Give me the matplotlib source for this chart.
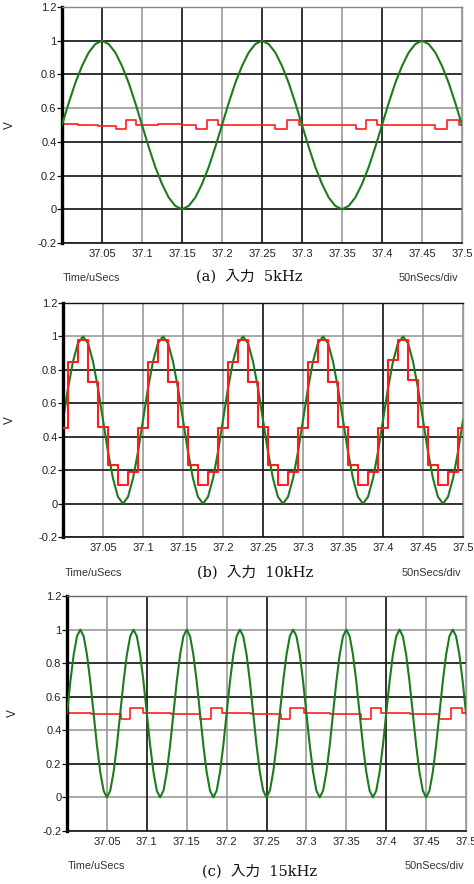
import numpy as np
import matplotlib
matplotlib.use("Agg")
import matplotlib.pyplot as plt

# ---- data ----
x_ticks = [37.05, 37.1, 37.15, 37.2, 37.25, 37.3, 37.35, 37.4, 37.45, 37.5]
x_labels = ["37.05", "37.1", "37.15", "37.2", "37.25", "37.3", "37.35", "37.4", "37.45", "37.5"]
y_ticks = [-0.2, 0, 0.2, 0.4, 0.6, 0.8, 1.0, 1.2]
y_labels = ["-0.2", "0", "0.2", "0.4", "0.6", "0.8", "1", "1.2"]
captions = ["(a)  入力  5kHz", "(b)  入力  10kHz", "(c)  入力  15kHz"]

# (a) input sine, sampled every 0.2/24 us from 37.0 to 37.5
green_a = [
    0.50, 0.63, 0.75, 0.85, 0.93, 0.98, 1.00, 0.98, 0.93, 0.85, 0.75, 0.63,
    0.50, 0.37, 0.25, 0.15, 0.07, 0.02, 0.00, 0.02, 0.07, 0.15, 0.25, 0.37,
    0.50, 0.63, 0.75, 0.85, 0.93, 0.98, 1.00, 0.98, 0.93, 0.85, 0.75, 0.63,
    0.50, 0.37, 0.25, 0.15, 0.07, 0.02, 0.00, 0.02, 0.07, 0.15, 0.25, 0.37,
    0.50, 0.63, 0.75, 0.85, 0.93, 0.98, 1.00, 0.98, 0.93, 0.85, 0.75, 0.63,
    0.50,
]
red_a_t = [37.000, 37.020, 37.045, 37.068, 37.080, 37.093, 37.120, 37.150,
           37.168, 37.181, 37.195, 37.225, 37.266, 37.281, 37.296, 37.330,
           37.368, 37.380, 37.394, 37.430, 37.466, 37.481, 37.496, 37.500]
red_a_v = [0.505, 0.500, 0.497, 0.476, 0.528, 0.500, 0.503, 0.498,
           0.474, 0.530, 0.500, 0.502, 0.475, 0.530, 0.500, 0.498,
           0.476, 0.528, 0.500, 0.502, 0.476, 0.530, 0.500, 0.500]

# (b) input sine, sampled every 0.1/16 us
green_b = [
    0.50, 0.69, 0.85, 0.96, 1.00, 0.96, 0.85, 0.69, 0.50, 0.31, 0.15, 0.04, 0.00, 0.04, 0.15, 0.31,
    0.50, 0.69, 0.85, 0.96, 1.00, 0.96, 0.85, 0.69, 0.50, 0.31, 0.15, 0.04, 0.00, 0.04, 0.15, 0.31,
    0.50, 0.69, 0.85, 0.96, 1.00, 0.96, 0.85, 0.69, 0.50, 0.31, 0.15, 0.04, 0.00, 0.04, 0.15, 0.31,
    0.50, 0.69, 0.85, 0.96, 1.00, 0.96, 0.85, 0.69, 0.50, 0.31, 0.15, 0.04, 0.00, 0.04, 0.15, 0.31,
    0.50, 0.69, 0.85, 0.96, 1.00, 0.96, 0.85, 0.69, 0.50, 0.31, 0.15, 0.04, 0.00, 0.04, 0.15, 0.31,
    0.50,
]
red_b_t = [37.0000, 37.0065, 37.0190, 37.0315, 37.0440, 37.0565, 37.0690, 37.0815,
           37.0940, 37.1065, 37.1190, 37.1315, 37.1440, 37.1565, 37.1690, 37.1815,
           37.1940, 37.2065, 37.2190, 37.2315, 37.2440, 37.2565, 37.2690, 37.2815,
           37.2940, 37.3065, 37.3190, 37.3315, 37.3440, 37.3565, 37.3690, 37.3815,
           37.3940, 37.4065, 37.4190, 37.4315, 37.4440, 37.4565, 37.4690, 37.4815,
           37.4940, 37.5000]
red_b_v = [0.45, 0.85, 0.98, 0.73, 0.46, 0.23, 0.11, 0.19,
           0.45, 0.85, 0.98, 0.73, 0.46, 0.23, 0.11, 0.19,
           0.45, 0.85, 0.98, 0.73, 0.46, 0.23, 0.11, 0.19,
           0.45, 0.85, 0.98, 0.73, 0.46, 0.23, 0.11, 0.19,
           0.45, 0.86, 0.98, 0.74, 0.46, 0.23, 0.11, 0.19,
           0.45, 0.45]

# (c) input sine, sampled every (0.2/3)/16 us
green_c = [
    0.50, 0.69, 0.85, 0.96, 1.00, 0.96, 0.85, 0.69, 0.50, 0.31, 0.15, 0.04, 0.00, 0.04, 0.15, 0.31,
    0.50, 0.69, 0.85, 0.96, 1.00, 0.96, 0.85, 0.69, 0.50, 0.31, 0.15, 0.04, 0.00, 0.04, 0.15, 0.31,
    0.50, 0.69, 0.85, 0.96, 1.00, 0.96, 0.85, 0.69, 0.50, 0.31, 0.15, 0.04, 0.00, 0.04, 0.15, 0.31,
    0.50, 0.69, 0.85, 0.96, 1.00, 0.96, 0.85, 0.69, 0.50, 0.31, 0.15, 0.04, 0.00, 0.04, 0.15, 0.31,
    0.50, 0.69, 0.85, 0.96, 1.00, 0.96, 0.85, 0.69, 0.50, 0.31, 0.15, 0.04, 0.00, 0.04, 0.15, 0.31,
    0.50, 0.69, 0.85, 0.96, 1.00, 0.96, 0.85, 0.69, 0.50, 0.31, 0.15, 0.04, 0.00, 0.04, 0.15, 0.31,
    0.50, 0.69, 0.85, 0.96, 1.00, 0.96, 0.85, 0.69, 0.50, 0.31, 0.15, 0.04, 0.00, 0.04, 0.15, 0.31,
    0.50, 0.69, 0.85, 0.96, 1.00, 0.96, 0.85, 0.69, 0.50,
]
red_c_t = [37.000, 37.030, 37.068, 37.079, 37.095, 37.130, 37.167, 37.181,
           37.194, 37.230, 37.268, 37.279, 37.297, 37.330, 37.368, 37.381,
           37.393, 37.430, 37.466, 37.481, 37.495, 37.500]
red_c_v = [0.500, 0.497, 0.470, 0.535, 0.500, 0.497, 0.468, 0.532,
           0.500, 0.498, 0.470, 0.533, 0.500, 0.497, 0.468, 0.530,
           0.500, 0.498, 0.468, 0.532, 0.500, 0.500]

panels = [
    dict(green=green_a, red_t=red_a_t, red_v=red_a_v,
         rect=[0.1308, 0.7251, 0.8439, 0.2670], dark_x=[37.05, 37.15, 37.25, 37.3, 37.4],
         dark_y=[0, 0.2, 0.4, 0.8, 1.0], top="#888888", red_on_top=False, red_lw=1.2,
         lab_x=-0.13, time_xy=(0.133, 0.6855), cap_xy=(0.525, 0.6867), div_xy=(0.966, 0.6855)),
    dict(green=green_b, red_t=red_b_t, red_v=red_b_v,
         rect=[0.1329, 0.3925, 0.8439, 0.2647], dark_x=[37.25, 37.4],
         dark_y=[0, 0.2, 0.4, 0.6, 0.8], top="#111111", red_on_top=True, red_lw=1.5,
         lab_x=-0.1325, time_xy=(0.137, 0.3518), cap_xy=(0.538, 0.3529), div_xy=(0.9726, 0.3518)),
    dict(green=green_c, red_t=red_c_t, red_v=red_c_v,
         rect=[0.1414, 0.0600, 0.8418, 0.2658], dark_x=[37.1, 37.25, 37.4],
         dark_y=[0.2, 0.6, 0.8], top="#666666", red_on_top=False, red_lw=1.2,
         lab_x=-0.135, time_xy=(0.1435, 0.0204), cap_xy=(0.5485, 0.0147), div_xy=(0.979, 0.0204)),
]

sans = "Liberation Sans"
green_col = "#1d7a1d"
red_col = "#ff1c1c"

fig = plt.figure(figsize=(4.74, 8.84), dpi=100)

for i, p in enumerate(panels):
    ax = fig.add_axes(p["rect"])
    ax.set_xlim(37.0, 37.5)
    ax.set_ylim(-0.2, 1.2)

    # grid: light grey everywhere, darker lines on top of some
    ax.set_axisbelow(True)
    ax.grid(True, color="#9a9a9a", lw=1.2)
    for xv in p["dark_x"]:
        ax.axvline(xv, color="#151515", lw=1.1, zorder=1)
    for yv in p["dark_y"]:
        ax.axhline(yv, color="#151515", lw=1.1, zorder=1)

    t_green = np.linspace(37.0, 37.5, len(p["green"]))
    zg, zr = (2, 3) if p["red_on_top"] else (3, 2)
    ax.plot(t_green, p["green"], color=green_col, lw=1.5, zorder=zg)
    ax.step(p["red_t"], p["red_v"], where="post", color=red_col, lw=p["red_lw"], zorder=zr)

    ax.set_xticks(x_ticks)
    ax.set_xticklabels(x_labels)
    ax.set_yticks(y_ticks)
    ax.set_yticklabels(y_labels)
    for lab in ax.get_xticklabels() + ax.get_yticklabels():
        lab.set_fontfamily(sans)
    ax.tick_params(axis="x", length=0, pad=4, labelsize=8, labelcolor="#222222")
    ax.tick_params(axis="y", length=3.5, width=0.9, pad=0.5, labelsize=8,
                   labelcolor="#222222", color="#111111")

    ax.spines["left"].set_linewidth(2.4)
    ax.spines["left"].set_color("black")
    ax.spines["bottom"].set_linewidth(1.2)
    ax.spines["bottom"].set_color("#111111")
    ax.spines["right"].set_color("#999999")
    ax.spines["right"].set_linewidth(1.0)
    ax.spines["top"].set_color(p["top"])
    ax.spines["top"].set_linewidth(1.0)

    ax.set_ylabel("V", fontsize=8.5, family=sans, color="#222222", va="center")
    ax.yaxis.set_label_coords(p["lab_x"], 0.5)

    fig.text(*p["time_xy"], "Time/uSecs", fontsize=7.8, family=sans, color="#333333",
             ha="left", va="center")
    fig.text(*p["div_xy"], "50nSecs/div", fontsize=7.8, family=sans, color="#333333",
             ha="right", va="center")
    fig.text(*p["cap_xy"], captions[i], fontsize=10.5,
             family=["DejaVu Serif", "Noto Sans CJK JP"], color="#111111",
             ha="center", va="center")

fig.savefig("out.png", dpi=100)
